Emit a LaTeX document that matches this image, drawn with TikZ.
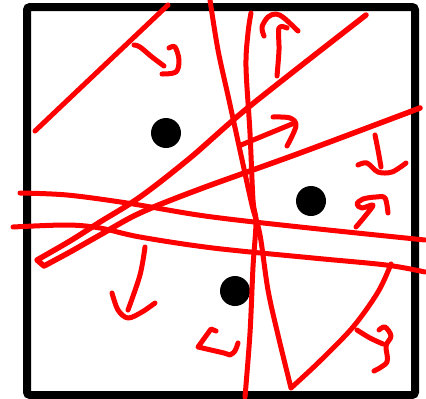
\documentclass[tikz,border=0pt]{standalone}
\begin{document}
\begin{tikzpicture}[x=1pt,y=-1pt,
  frame/.style={draw=black, line width=8pt, rounded corners=3pt},
  dot/.style={circle, fill=black, inner sep=0pt, minimum size=30pt},
  ink/.style={draw=red, line width=5pt, line cap=round, line join=round},
  thickink/.style={ink, line width=5.5pt},
  sm/.style={smooth, tension=0.55}]
\useasboundingbox (0,0) rectangle (426,399);
\fill[white] (0,0) rectangle (426,399);
% frame
\draw[frame] (27,7) rectangle (415,395);
% dots
\node[dot] (p1) at (166,133) {};
\node[dot] (p2) at (311,201) {};
\node[dot] (p3) at (235,291) {};
% long strokes
\draw[ink] (35,131) -- (168,5);
\draw[thickink] plot[sm] coordinates {(366,15) (250,106) (190,158) (140,197) (100,222) (70,241) (37,260)}
  -- (44,266) plot[sm] coordinates {(44,266) (70,252) (100,235) (140,213) (200,189) (300,153) (420,108)};
\draw[ink] plot[sm] coordinates {(20,193) (67,195) (127,203) (205,216) (300,227) (425,240)};
\draw[ink] plot[sm] coordinates {(13,227) (67,225) (100,228) (140,237) (213,248) (313,258) (386,265) (425,272)};
\draw[ink] plot[sm] coordinates {(251,13) (248,33) (246,67) (250,133) (253,200) (256,222) (253,267) (250,333) (245,397)};
\draw[ink] plot[sm] coordinates {(210,0) (218,50) (229,100) (241,155) (252,205) (260,235) (268,290) (278,335) (291,388)}
  plot[sm] coordinates {(291,388) (320,361) (353,327) (378,292) (391,264)};
% arrows and squiggles
\draw[ink] plot[sm] coordinates {(134,45) (140,47) (152,57) (164,66)};
\draw[ink] plot[sm] coordinates {(169,48) (175,47) (179,60) (176,72) (162,74)};
\draw[ink] plot[sm] coordinates {(277,76) (279,50) (279,28) (287,28)};
\draw[ink] plot[sm] coordinates {(264,36) (262,27) (268,17) (276,14) (284,18) (298,31)};
\draw[ink] (241,145) -- (292,124);
\draw[ink] plot[sm] coordinates {(273,117) (290,118) (296,126) (287,146)};
\draw[ink] plot[sm] coordinates {(375,135) (378,150) (381,167)};
\draw[ink] plot[sm] coordinates {(358,165) (367,163) (378,172) (392,172) (406,163)};
\draw[ink] plot[sm] coordinates {(356,227) (366,215) (373,205) (362,208) (357,204) (363,199) (376,197) (385,198) (388,213)};
\draw[ink] plot[sm] coordinates {(145,247) (140,275) (128,310)};
\draw[ink] plot[sm] coordinates {(112,293) (118,310) (128,318) (142,312) (155,303)};
\draw[ink] (216,331) -- (211,329) -- (198,347) -- (224,353) -- (230,355) .. controls (235,352) .. (238,343);
\draw[ink] plot[sm] coordinates {(357,330) (370,338) (383,344)};
\draw[ink] plot[sm] coordinates {(379,330) (385,327) (391,336) (386,346) (387,362) (374,371)};
\end{tikzpicture}
\end{document}
